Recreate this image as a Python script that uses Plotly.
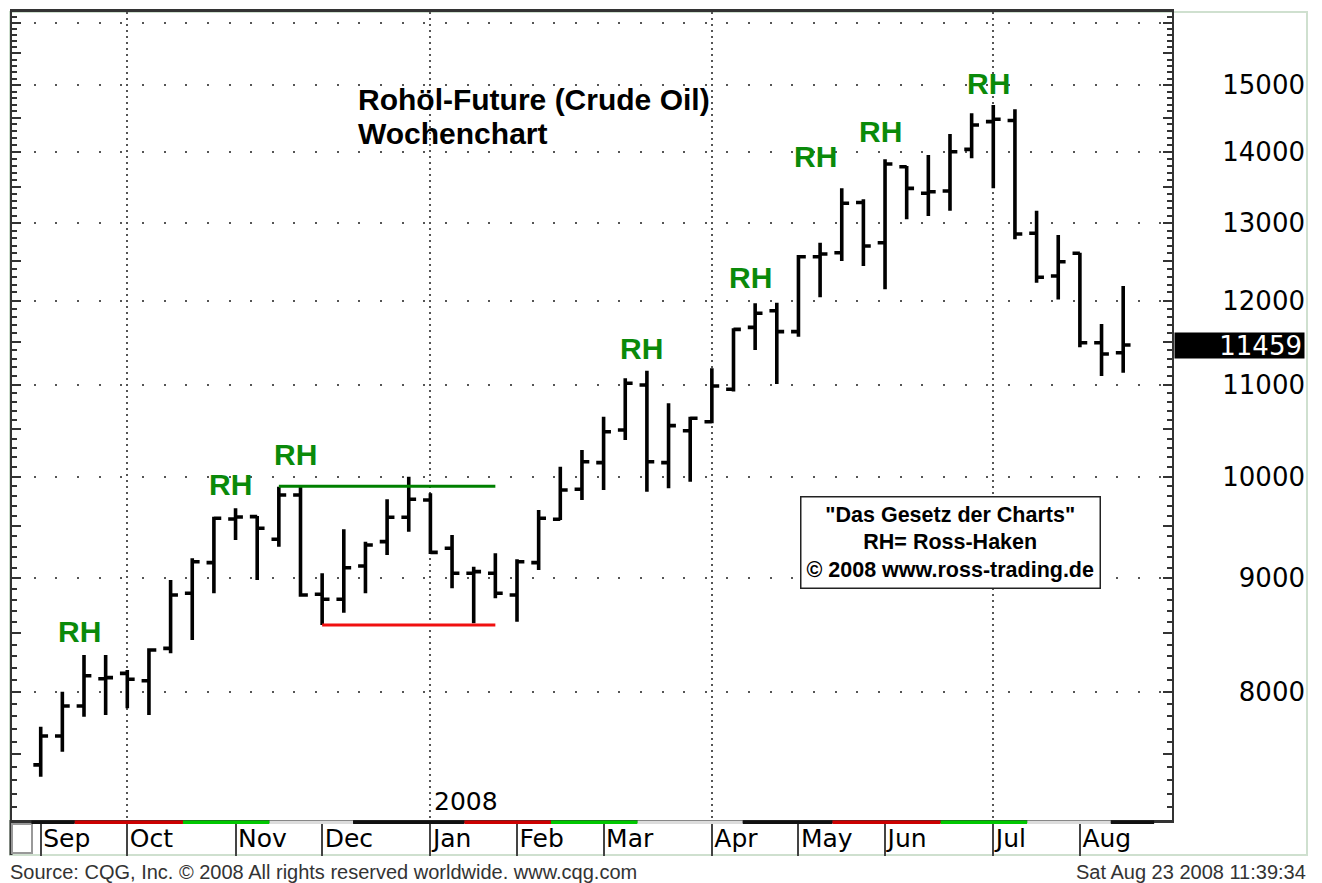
import math
import plotly.graph_objects as go

# ---------------- data ----------------
weeks = [
    "2007-09-03", "2007-09-10", "2007-09-17", "2007-09-24",
    "2007-10-01", "2007-10-08", "2007-10-15", "2007-10-22", "2007-10-29",
    "2007-11-05", "2007-11-12", "2007-11-19", "2007-11-26",
    "2007-12-03", "2007-12-10", "2007-12-17", "2007-12-24", "2007-12-31",
    "2008-01-07", "2008-01-14", "2008-01-21", "2008-01-28",
    "2008-02-04", "2008-02-11", "2008-02-18", "2008-02-25",
    "2008-03-03", "2008-03-10", "2008-03-17", "2008-03-24", "2008-03-31",
    "2008-04-07", "2008-04-14", "2008-04-21", "2008-04-28",
    "2008-05-05", "2008-05-12", "2008-05-19", "2008-05-26",
    "2008-06-02", "2008-06-09", "2008-06-16", "2008-06-23", "2008-06-30",
    "2008-07-07", "2008-07-14", "2008-07-21", "2008-07-28",
    "2008-08-04", "2008-08-11", "2008-08-18",
]
opens = [7418, 7644, 7885, 8110, 8156, 8094, 8370, 8861, 9147,
         9570, 9593, 9371, 9811,
         8852, 8806, 9115, 9348, 9587,
         9760, 9284, 9047, 9047,
         8845, 9147, 9567, 9870,
         10145, 10494, 10994, 10145, 10486,
         10584, 10946, 11671, 11874,
         11619, 12556, 12609, 13282,
         12740, 13784, 13410, 13441, 14034,
         14442, 14460, 12866, 12308,
         12601, 11486, 11368]
highs = [7718, 8003, 8313, 8313, 8184, 8370, 8984, 9188, 9593,
         9676, 9600, 9895, 9895,
         9047, 9468, 9348, 9767, 9998,
         9828, 9413, 9109, 9236,
         9179, 9659, 10103, 10279,
         10639, 11071, 11158, 10788, 10639,
         11187, 11659, 11965, 11973,
         12578, 12740, 13478, 13326,
         13890, 13795, 13951, 14258, 14568,
         14694, 14628, 13170, 12842,
         12609, 11711, 12181]
lows = [7328, 7520, 7798, 7812, 7866, 7812, 8327, 8443, 8861,
        9364, 8984, 9299, 8830,
        8575, 8684, 8861, 9220, 9445,
        9230, 8907, 8590, 8815,
        8604, 9078, 9560, 9760,
        9862, 10386, 9844, 9879, 9946,
        10567, 10920, 11400, 11006,
        11558, 12040, 12501, 12436,
        12140, 13053, 13097, 13170, 13904,
        13478, 12785, 12223, 12014,
        11432, 11098, 11135]
closes = [7644, 7885, 8136, 8120, 8106, 8356, 8845, 9156, 9577,
          9590, 9478, 9811, 8845,
          8806, 9099, 9316, 9587, 9767,
          9245, 9047, 9062, 8861,
          9156, 9577, 9862, 10155,
          10475, 11014, 10155, 10541, 10622,
          10983, 11647, 11842, 11619,
          12556, 12592, 13271, 12697,
          13823, 13478, 13430, 13999, 14393,
          14478, 12855, 12292, 12491,
          11486, 11353, 11459]

month_starts = ["2007-09-03", "2007-10-01", "2007-11-05", "2007-12-03",
                "2008-01-07", "2008-02-04", "2008-03-03", "2008-04-07",
                "2008-05-05", "2008-06-02", "2008-07-07", "2008-08-04"]
month_names = ["Sep", "Oct", "Nov", "Dec", "Jan", "Feb", "Mar", "Apr",
               "May", "Jun", "Jul", "Aug"]
quarter_starts = ["2007-10-01", "2008-01-07", "2008-04-07", "2008-07-07"]

grid_levels = [8000, 9000, 10000, 11000, 12000, 13000, 14000, 15000, 16000]
label_levels = ["8000", "9000", "10000", "11000", "12000", "13000",
                "14000", "15000", ""]

rh_weeks = ["2007-09-17", "2007-11-05", "2007-11-26", "2008-03-17",
            "2008-04-21", "2008-05-12", "2008-06-02", "2008-07-07"]
rh_levels = [8513, 9923, 10226, 11424, 12289, 13937, 14302, 15031]

resist_weeks = ["2007-11-19", "2008-01-28"]
resist_levels = [9900, 9900]
support_weeks = ["2007-12-03", "2008-01-28"]
support_levels = [8575, 8575]

last_price = 11459

roll_dates = ["2007-08-31", "2007-09-14", "2007-10-19", "2007-11-16",
              "2007-12-13", "2008-01-18", "2008-02-15", "2008-03-14",
              "2008-04-17", "2008-05-16", "2008-06-20", "2008-07-18",
              "2008-08-14", "2008-08-28"]
roll_colors = ["#111111", "#cc0000", "#00c800", "#dcdcdc"] * 3 + ["#111111"]

x_range = ["2007-08-24 17:15", "2008-09-02 18:45"]
y_range = [7006.7, 16179]

# ---------------- geometry helpers ----------------
W, H = 1322, 883
ML, MR, MT, MB = 12, 17, 12, 63
PW, PH = W - ML - MR, H - MT - MB


def px(x):
    return (x - ML) / PW


def py(y):
    return (H - MB - y) / PH


GREEN = "#0a8a0a"
TICKFONT = "DejaVu Sans"
TEXTFONT = "Liberation Sans"

fig = go.Figure()

fig.add_trace(go.Ohlc(
    x=weeks, open=opens, high=highs, low=lows, close=closes,
    increasing=dict(line=dict(color="black", width=3.6)),
    decreasing=dict(line=dict(color="black", width=3.6)),
    tickwidth=0.34, showlegend=False, hoverinfo="x+text",
))

fig.add_trace(go.Scatter(
    x=resist_weeks, y=resist_levels, mode="lines",
    line=dict(color="#008000", width=3), showlegend=False, hoverinfo="skip"))
fig.add_trace(go.Scatter(
    x=support_weeks, y=support_levels, mode="lines",
    line=dict(color="#f01010", width=3), showlegend=False, hoverinfo="skip"))

# invisible trace that carries the label axis
fig.add_trace(go.Scatter(
    x=weeks, y=closes, yaxis="y2", mode="lines", line=dict(width=0),
    opacity=0, showlegend=False, hoverinfo="skip"))

minor_y = [v for v in range(7100, 16200, 100) if v % 500 != 0]
half_y = list(range(7500, 16500, 500))

log_range = [math.log10(y_range[0]), math.log10(y_range[1])]

fig.update_layout(
    width=W, height=H, template="none",
    margin=dict(l=ML, r=MR, t=MT, b=MB, pad=0),
    paper_bgcolor="white", plot_bgcolor="white",
    font=dict(family=TEXTFONT, color="black"),
    showlegend=False,
    xaxis=dict(
        type="date", range=x_range, domain=[0, px(1172)],
        rangeslider=dict(visible=False),
        tickmode="array", tickvals=month_starts, ticktext=month_names,
        ticks="outside", ticklen=33, tickwidth=2, tickcolor="#444",
        ticklabelposition="outside right", ticklabelstandoff=-6,
        tickfont=dict(family=TICKFONT, size=25, color="black"),
        showline=True, linecolor="#333", linewidth=3, mirror=True,
        showgrid=False, zeroline=False,
        minor=dict(tickmode="array", tickvals=quarter_starts, ticks="",
                   showgrid=True, gridcolor="#555", gridwidth=1.5,
                   griddash="2px,4px"),
    ),
    yaxis=dict(
        type="log", range=log_range, side="right",
        tickmode="array", tickvals=half_y, showticklabels=False,
        ticks="inside", ticklen=9, tickwidth=2, tickcolor="#333",
        showline=True, linecolor="#333", linewidth=2, mirror="allticks",
        showgrid=False, zeroline=False,
        minor=dict(tickmode="array", tickvals=minor_y, ticks="inside",
                   ticklen=5, tickwidth=1.5, tickcolor="#333", showgrid=False),
    ),
    yaxis2=dict(
        type="log", range=log_range, overlaying="y", anchor="free",
        position=1.0, side="left",
        tickmode="array", tickvals=grid_levels, ticktext=label_levels,
        ticks="", showline=False, zeroline=False,
        tickfont=dict(family=TICKFONT, size=26, color="black"),
        showgrid=True, gridcolor="#555", gridwidth=1.5,
        griddash="2px,19.65px",
    ),
)

annotations = []
for w, lvl in zip(rh_weeks, rh_levels):
    annotations.append(dict(
        x=w, y=math.log10(lvl), xref="x", yref="y", text="<b>RH</b>",
        showarrow=False, xshift=-5,
        font=dict(family=TEXTFONT, size=30, color=GREEN)))

annotations += [
    dict(x=px(356), y=py(100), xref="paper", yref="paper", xanchor="left",
         yanchor="middle", showarrow=False,
         text="<b>Rohöl-Future (Crude Oil)</b>",
         font=dict(family=TEXTFONT, size=30, color="black")),
    dict(x=px(356), y=py(133), xref="paper", yref="paper", xanchor="left",
         yanchor="middle", showarrow=False, text="<b>Wochenchart</b>",
         font=dict(family=TEXTFONT, size=30, color="black")),
    dict(x=px(950.5), y=py(542), xref="paper", yref="paper",
         xanchor="center", yanchor="middle", showarrow=False,
         text="<b>\"Das Gesetz der Charts\"<br>RH= Ross-Haken<br>"
              "© 2008 www.ross-trading.de</b>",
         align="center", bgcolor="white", bordercolor="#222",
         borderwidth=1.5, borderpad=5,
         font=dict(family=TEXTFONT, size=21.5, color="black")),
    dict(x=quarter_starts[1], y=0, xref="x", yref="paper", xanchor="left",
         yanchor="bottom", xshift=2, yshift=2, showarrow=False, text="2008",
         font=dict(family=TICKFONT, size=25, color="black")),
    dict(x=1.0, y=math.log10(last_price), xref="paper", yref="y",
         xanchor="right", yanchor="middle", showarrow=False,
         text=str(last_price), bgcolor="black", align="right",
         width=125, height=21, borderpad=2,
         font=dict(family=TICKFONT, size=26, color="white")),
    dict(x=px(8), y=py(872), xref="paper", yref="paper", xanchor="left",
         yanchor="middle", showarrow=False,
         text="Source: CQG, Inc. © 2008 All rights reserved worldwide. www.cqg.com",
         font=dict(family=TEXTFONT, size=20, color="#333")),
    dict(x=px(1308), y=py(872), xref="paper", yref="paper", xanchor="right",
         yanchor="middle", showarrow=False, text="Sat Aug 23 2008 11:39:34",
         font=dict(family=TEXTFONT, size=20, color="#333")),
]
fig.update_layout(annotations=annotations)

shapes = [
    # outer frame of the chart window
    dict(type="rect", xref="paper", yref="paper", x0=px(10), x1=px(1307),
         y0=py(855), y1=py(12), line=dict(color="#cfe0cf", width=2),
         layer="below"),
    # left edge continues through the date row
    dict(type="line", xref="paper", yref="paper", x0=px(11), x1=px(11),
         y0=py(855), y1=py(820), line=dict(color="#333", width=3)),
    # small box at the left of the date row
    dict(type="rect", xref="paper", yref="paper", x0=px(12), x1=px(32),
         y0=py(853), y1=py(824), line=dict(color="#999", width=2)),
]
for i, c in enumerate(roll_colors):
    shapes.append(dict(type="rect", xref="x", yref="paper",
                       x0=roll_dates[i], x1=roll_dates[i + 1],
                       y0=py(824), y1=py(820.5), line=dict(width=0),
                       fillcolor=c, layer="above"))
fig.update_layout(shapes=shapes)

fig.write_html("out.html",
               config={"displayModeBar": False},
               post_script="document.body.style.margin='0px';"
                           "document.body.style.overflow='hidden';")
